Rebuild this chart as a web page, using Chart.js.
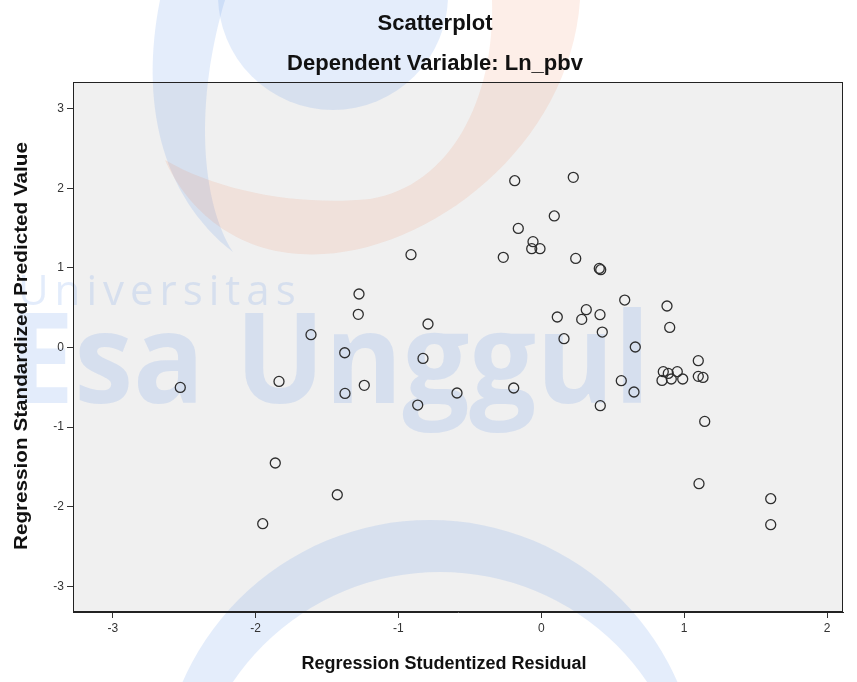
<!DOCTYPE html>
<html>
<head>
<meta charset="utf-8">
<script src="https://cdn.jsdelivr.net/npm/chart.js@4.4.1/dist/chart.umd.min.js"></script>
<style>
  html, body { margin: 0; padding: 0; background: #fff; }
  #wrap { width: 857px; height: 682px; }
</style>
</head>
<body>
<div id="wrap"><canvas id="chart"></canvas></div>
<script>
// residuals (x) and predicted values (y)
var residual = [
  -2.527, -1.950, -1.862, -1.836, -1.612, -1.428, -1.376, -1.374, -1.281, -1.276,
  -1.239, -0.912, -0.865, -0.828, -0.793, -0.590, -0.266, -0.186, -0.193, -0.161,
  -0.058, -0.067, -0.009, 0.091, 0.112, 0.159, 0.224, 0.241, 0.283, 0.315,
  0.406, 0.416, 0.411, 0.427, 0.413, 0.560, 0.584, 0.649, 0.658, 0.880,
  0.899, 0.854, 0.889, 0.952, 0.845, 0.910, 0.990, 1.099, 1.099, 1.132,
  1.144, 1.104, 1.606, 1.606
]
var predicted = [
  -0.503, -2.215, -1.452, -0.427, 0.160, -1.851, -0.067, -0.578, 0.415, 0.671,
  -0.477, 1.165, -0.724, -0.138, 0.294, -0.573, 1.131, 2.094, -0.510, 1.495,
  1.328, 1.240, 1.240, 1.651, 0.382, 0.109, 2.136, 1.118, 0.352, 0.474,
  0.992, 0.976, 0.411, 0.193, -0.732, -0.418, 0.595, -0.560, 0.005, 0.520,
  0.251, -0.305, -0.327, -0.305, -0.415, -0.397, -0.397, -0.167, -0.364, -0.377,
  -0.930, -1.712, -1.901, -2.227
]
var xTicks = [-3, -2, -1, 0, 1, 2]
var yTicks = [-3, -2, -1, 0, 1, 2, 3]
var titleLines = ['Scatterplot', 'Dependent Variable: Ln_pbv']
var xTitle = 'Regression Studentized Residual'
var yTitle = 'Regression Standardized Predicted Value'

var points = []
for (var i = 0; i < residual.length; i++) {
  points.push({ x: residual[i], y: predicted[i] })
}

var FONT = '"Liberation Sans", Arial, sans-serif'

// grey plot area, faint watermark, titles and the box around the plot
var backdrop = {
  id: 'backdrop',
  beforeDraw: function (chart) {
    var ctx = chart.ctx
    var a = chart.chartArea
    ctx.save()
    ctx.fillStyle = '#ffffff'
    ctx.fillRect(0, 0, chart.width, chart.height)
    ctx.fillStyle = '#f0f0f0'
    ctx.fillRect(a.left, a.top, a.right - a.left, a.bottom - a.top)

    // watermark: globe, swooshes and the university name
    var blue = 'rgba(90, 140, 230, 0.16)'
    ctx.fillStyle = blue
    ctx.beginPath()
    ctx.arc(333, -5, 115, 0, Math.PI * 2)
    ctx.fill()

    ctx.beginPath()
    ctx.moveTo(160, 0)
    ctx.bezierCurveTo(140, 100, 160, 195, 233, 252)
    ctx.bezierCurveTo(200, 200, 195, 100, 225, 0)
    ctx.closePath()
    ctx.fill()

    ctx.fillStyle = 'rgba(240, 120, 80, 0.13)'
    ctx.beginPath()
    ctx.moveTo(580, 0)
    ctx.bezierCurveTo(570, 150, 420, 262, 300, 254)
    ctx.bezierCurveTo(230, 250, 185, 205, 165, 160)
    ctx.bezierCurveTo(220, 192, 300, 206, 370, 199)
    ctx.bezierCurveTo(450, 186, 495, 100, 492, 0)
    ctx.closePath()
    ctx.fill()

    ctx.fillStyle = blue
    ctx.beginPath()
    ctx.arc(430, 790, 270, 0, Math.PI * 2)
    ctx.arc(440, 822, 250, 0, Math.PI * 2, true)
    ctx.fill()

    ctx.fillStyle = 'rgba(90, 140, 230, 0.17)'
    ctx.font = 'bold 126px "Open Sans", ' + FONT
    ctx.textBaseline = 'alphabetic'
    var big = 'Esa Unggul'
    var w = ctx.measureText(big).width
    ctx.save()
    ctx.translate(8, 403)
    ctx.scale(642 / w, 1)
    ctx.fillText(big, 0, 0)
    ctx.restore()

    ctx.font = '42px "Open Sans", ' + FONT
    var word = 'Universitas'
    var x = 18
    for (var k = 0; k < word.length; k++) {
      ctx.fillText(word[k], x, 305)
      x += ctx.measureText(word[k]).width + 6
    }

    // chart titles
    ctx.fillStyle = '#111'
    ctx.font = 'bold 22px ' + FONT
    ctx.textAlign = 'center'
    ctx.textBaseline = 'middle'
    ctx.fillText(titleLines[0], 435, 24)
    ctx.fillText(titleLines[1], 435, 64)

    // axis titles
    ctx.font = 'bold 18px ' + FONT
    ctx.fillText(xTitle, 444, 664)
    var tw = ctx.measureText(yTitle).width
    ctx.translate(22, 346)
    ctx.rotate(-Math.PI / 2)
    ctx.scale(408 / tw, 1)
    ctx.fillText(yTitle, 0, 0)
    ctx.restore()
  },
  afterDatasetsDraw: function (chart) {
    var ctx = chart.ctx
    var a = chart.chartArea
    ctx.save()
    ctx.strokeStyle = '#222'
    ctx.lineWidth = 1
    ctx.strokeRect(a.left + 0.5, a.top + 0.5, a.right - a.left - 1, a.bottom - a.top - 1)
    ctx.restore()
  }
}

new Chart(document.getElementById('chart'), {
  type: 'scatter',
  data: {
    datasets: [{
      data: points,
      pointStyle: 'circle',
      pointRadius: 5,
      pointHoverRadius: 5,
      pointBorderWidth: 1.3,
      borderColor: '#2e2e2e',
      backgroundColor: 'rgba(0,0,0,0)'
    }]
  },
  options: {
    responsive: true,
    maintainAspectRatio: false,
    animation: false,
    layout: { padding: { left: 0, right: 14, top: 82, bottom: 0 } },
    plugins: {
      legend: { display: false },
      tooltip: { enabled: false },
      title: { display: false }
    },
    scales: {
      x: {
        type: 'linear',
        min: -3.278,
        max: 2.112,
        afterBuildTicks: function (scale) {
          scale.ticks = xTicks.map(function (v) { return { value: v } })
        },
        afterFit: function (scale) { scale.height = 70 },
        grid: { drawOnChartArea: false, drawTicks: true, tickLength: 6, color: '#333', tickWidth: 1 },
        border: { display: true, color: '#222' },
        ticks: { color: '#333', font: { family: FONT, size: 12 }, padding: 3, includeBounds: false },
        title: { display: false }
      },
      y: {
        type: 'linear',
        min: -3.324,
        max: 3.334,
        afterBuildTicks: function (scale) {
          scale.ticks = yTicks.map(function (v) { return { value: v } })
        },
        afterFit: function (scale) { scale.width = 73 },
        grid: { drawOnChartArea: false, drawTicks: true, tickLength: 6, color: '#333', tickWidth: 1 },
        border: { display: true, color: '#222' },
        ticks: { color: '#333', font: { family: FONT, size: 12 }, padding: 3, includeBounds: false },
        title: { display: false }
      }
    }
  },
  plugins: [backdrop]
})
</script>
</body>
</html>
